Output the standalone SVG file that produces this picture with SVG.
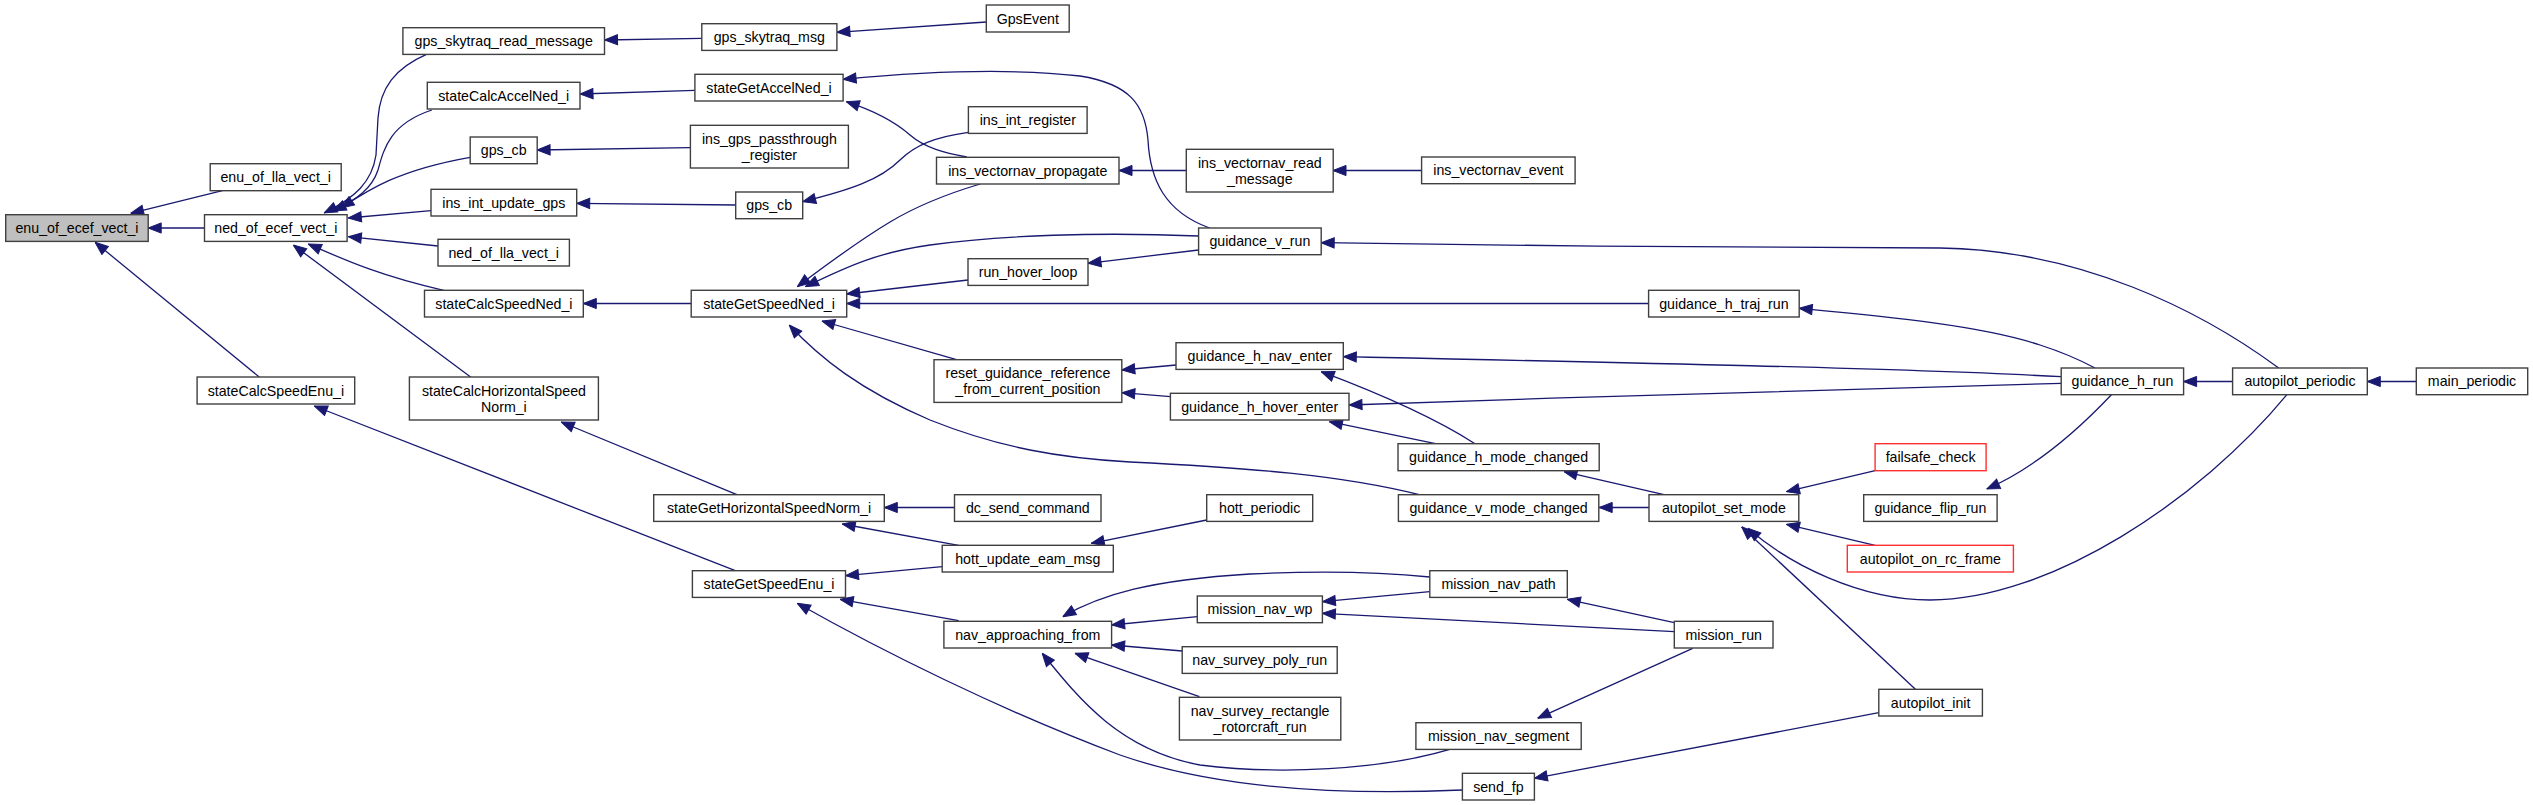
<svg xmlns="http://www.w3.org/2000/svg" width="2533" height="805" viewBox="0 0 2533 805">
<style>
.n rect{fill:#ffffff;stroke:#404040;stroke-width:1.4}
.n.root rect{fill:#bfbfbf}
.n.red rect{stroke:#ff3030}
.n text{font-family:"Liberation Sans",Arial,Helvetica,sans-serif;font-size:14.2px;fill:#000;text-anchor:middle}
.e path{fill:none;stroke:#191970;stroke-width:1.3;marker-start:url(#ah)}
</style>
<defs>
<marker id="ah" markerWidth="14" markerHeight="12" refX="0" refY="6" orient="auto" markerUnits="userSpaceOnUse" viewBox="0 0 14 12"><path d="M0,6 L13,0.9 L13,11.1 Z" fill="#191970" stroke="#191970" stroke-width="1"/></marker>
</defs>
<rect width="2533" height="805" fill="#ffffff"/>
<g id="connectors" class="e">
<path d="M130.6,213.3 L222.4,190.7"/>
<path d="M148.2,228 L204.5,228"/>
<path d="M95.1,242.3 L259.2,377"/>
<path d="M324,213 C355,198 372,182 376,155 L378,118 C380,88 395,68 426.5,54.3"/>
<path d="M333,211 C358,199 372,188 378,170 C384,148 390,124 431.8,110"/>
<path d="M341,208 C368,190 398,170 470.2,157.3"/>
<path d="M348.3,218 L431,210.7"/>
<path d="M348.3,236.7 L438,246"/>
<path d="M308.3,244 C345,260 380,276 443.7,290.3"/>
<path d="M293.3,245 L470.6,377"/>
<path d="M314.3,406 L735.3,570.7"/>
<path d="M561.2,422 L736.9,494.7"/>
<path d="M604.5,40 L701.8,38.3"/>
<path d="M580,94 L694.9,90.3"/>
<path d="M537.1,150 L690.4,147.7"/>
<path d="M576.7,203.3 L735.7,205"/>
<path d="M583.3,303.5 L691.2,303.5"/>
<path d="M836.9,32.3 L986.3,22"/>
<path d="M843.1,79.3 C920,72 1010,68 1080,76 C1130,84 1145,105 1148,140 C1150,180 1165,212 1209.6,228"/>
<path d="M846.3,101.7 C875,111 895,122 910,135 C925,148 945,153 966.7,157"/>
<path d="M802.7,201.7 C850,190 880,180 900,160 C915,145 935,137 968.4,132.3"/>
<path d="M797.3,286.7 C830,262 860,240 890,222 C920,204 950,193 980.2,184"/>
<path d="M805.5,286.7 C850,265 880,252 930,245 C1000,235 1100,232 1198.6,236"/>
<path d="M846.7,294 L968,280"/>
<path d="M846.7,303.5 L1648.6,303.5"/>
<path d="M821.8,321 L956.5,359.7"/>
<path d="M789.2,325 C820,358 860,390 930,420 C1000,448 1060,458 1130,462 C1250,468 1340,475 1419.2,494.7"/>
<path d="M1088,263.3 L1198.6,250"/>
<path d="M1119,170.5 L1186.3,170.5"/>
<path d="M1333,170.5 L1421.6,170.5"/>
<path d="M1321.2,242.7 C1500,246 1800,248 1940,248 C2080,250 2200,310 2278.7,368"/>
<path d="M1121.8,370 L1176,365"/>
<path d="M1121.8,392.7 L1170.4,396.7"/>
<path d="M1799.2,308.3 C1880,316 1980,325 2040,345 C2065,353 2080,360 2095,368"/>
<path d="M1343.3,356.7 C1600,362 1900,368 2061.2,376.7"/>
<path d="M1349,405 C1600,396 1900,388 2061.2,383.3"/>
<path d="M1321.2,371.7 C1370,390 1430,415 1475,443.7"/>
<path d="M1329.4,421.7 L1435.5,443.7"/>
<path d="M2183.6,381.5 L2232.6,381.5"/>
<path d="M2367.3,381.5 L2416.3,381.5"/>
<path d="M1986.7,489 C2035,468 2078,430 2111.4,394.7"/>
<path d="M1786.5,491.7 L1875.1,470.7"/>
<path d="M1786.5,524.3 L1875.1,545.3"/>
<path d="M1741.6,526.7 L1915.4,689.3"/>
<path d="M1747.8,528.3 C1790,565 1860,600 1930,600 C2050,600 2200,500 2286.9,394.7"/>
<path d="M1564,471.7 L1664,494.7"/>
<path d="M1599.2,507.5 L1649,507.5"/>
<path d="M884.3,507.5 L954.5,507.5"/>
<path d="M842.2,524 L958.6,545.3"/>
<path d="M845.5,575.7 L942.2,566.7"/>
<path d="M1091.2,543.3 L1206.7,520"/>
<path d="M840.2,599.3 L958.6,620.7"/>
<path d="M797.3,603.3 C880,650 1000,710 1120,755 C1220,790 1350,795 1462.4,790"/>
<path d="M1042.2,653.3 C1080,700 1120,750 1200,765 C1280,775 1380,770 1449.8,749.3"/>
<path d="M1111.6,625 L1197.3,616.7"/>
<path d="M1111.6,645 L1182.2,651"/>
<path d="M1074.9,653.3 L1199.4,696.7"/>
<path d="M1062.7,616.7 C1100,595 1150,580 1250,574 C1330,570 1390,573 1429.8,577"/>
<path d="M1322.4,601.7 L1429.8,591.7"/>
<path d="M1322.4,613.3 L1674.3,631.7"/>
<path d="M1567.3,599.3 L1674.3,622.7"/>
<path d="M1537.6,718.3 L1692.7,648.3"/>
<path d="M1534.3,778.3 L1878.8,712.7"/>
</g>
<g id="enu_of_ecef_vect_i" class="n root"><rect x="5.7" y="214.7" width="142.5" height="26.7"/><text x="77" y="233">enu_of_ecef_vect_i</text></g>
<g id="enu_of_lla_vect_i" class="n"><rect x="210.2" y="163.7" width="131" height="27"/><text x="275.7" y="182.2">enu_of_lla_vect_i</text></g>
<g id="ned_of_ecef_vect_i" class="n"><rect x="204.5" y="214.7" width="142.6" height="26.7"/><text x="275.8" y="233">ned_of_ecef_vect_i</text></g>
<g id="stateCalcSpeedEnu_i" class="n"><rect x="197.1" y="377" width="157.6" height="27"/><text x="275.9" y="395.5">stateCalcSpeedEnu_i</text></g>
<g id="gps_skytraq_read_message" class="n"><rect x="402.9" y="27.7" width="201.6" height="26.7"/><text x="503.7" y="46">gps_skytraq_read_message</text></g>
<g id="stateCalcAccelNed_i" class="n"><rect x="427.3" y="82.3" width="152.7" height="26.7"/><text x="503.7" y="100.6">stateCalcAccelNed_i</text></g>
<g id="gps_cb_1" class="n"><rect x="470.2" y="137" width="67" height="26.7"/><text x="503.7" y="155.3">gps_cb</text></g>
<g id="ins_int_update_gps" class="n"><rect x="431" y="189.3" width="145.7" height="26.7"/><text x="503.8" y="207.6">ins_int_update_gps</text></g>
<g id="ned_of_lla_vect_i" class="n"><rect x="438" y="239.3" width="131.4" height="26.7"/><text x="503.7" y="257.6">ned_of_lla_vect_i</text></g>
<g id="stateCalcSpeedNed_i" class="n"><rect x="424.5" y="290.3" width="158.8" height="26.7"/><text x="503.9" y="308.6">stateCalcSpeedNed_i</text></g>
<g id="stateCalcHorizontalSpeedNorm_i" class="n"><rect x="409.4" y="377" width="189" height="43"/><text x="503.9" y="395.5">stateCalcHorizontalSpeed</text><text x="503.9" y="411.5">Norm_i</text></g>
<g id="gps_skytraq_msg" class="n"><rect x="701.8" y="23.7" width="135.1" height="26.7"/><text x="769.3" y="42">gps_skytraq_msg</text></g>
<g id="stateGetAccelNed_i" class="n"><rect x="694.9" y="74.3" width="148.2" height="26.7"/><text x="769" y="92.6">stateGetAccelNed_i</text></g>
<g id="ins_gps_passthrough_register" class="n"><rect x="690.4" y="125.3" width="158" height="42.7"/><text x="769.4" y="143.6">ins_gps_passthrough</text><text x="769.4" y="159.6">_register</text></g>
<g id="gps_cb_2" class="n"><rect x="735.7" y="192" width="67" height="26.7"/><text x="769.2" y="210.3">gps_cb</text></g>
<g id="stateGetSpeedNed_i" class="n"><rect x="691.2" y="290.3" width="155.5" height="26.7"/><text x="769" y="308.6">stateGetSpeedNed_i</text></g>
<g id="stateGetHorizontalSpeedNorm_i" class="n"><rect x="653.7" y="494.7" width="230.6" height="26.7"/><text x="769" y="513">stateGetHorizontalSpeedNorm_i</text></g>
<g id="stateGetSpeedEnu_i" class="n"><rect x="692.4" y="570.7" width="153.1" height="26.7"/><text x="769" y="589">stateGetSpeedEnu_i</text></g>
<g id="GpsEvent" class="n"><rect x="986.3" y="5" width="82.9" height="27"/><text x="1027.8" y="23.5">GpsEvent</text></g>
<g id="ins_int_register" class="n"><rect x="968.4" y="106.7" width="118.7" height="26.7"/><text x="1027.8" y="125">ins_int_register</text></g>
<g id="ins_vectornav_propagate" class="n"><rect x="936.5" y="157.3" width="182.5" height="26.7"/><text x="1027.8" y="175.6">ins_vectornav_propagate</text></g>
<g id="run_hover_loop" class="n"><rect x="968" y="258.7" width="120" height="26.7"/><text x="1028" y="277">run_hover_loop</text></g>
<g id="reset_guidance_reference_from_current_position" class="n"><rect x="934" y="359.7" width="187.8" height="42.7"/><text x="1027.9" y="378">reset_guidance_reference</text><text x="1027.9" y="394">_from_current_position</text></g>
<g id="dc_send_command" class="n"><rect x="954.5" y="494.7" width="146.5" height="26.7"/><text x="1027.8" y="513">dc_send_command</text></g>
<g id="hott_update_eam_msg" class="n"><rect x="942.2" y="545.3" width="171.1" height="26.7"/><text x="1027.8" y="563.6">hott_update_eam_msg</text></g>
<g id="nav_approaching_from" class="n"><rect x="943.9" y="621.3" width="167.7" height="26.7"/><text x="1027.8" y="639.6">nav_approaching_from</text></g>
<g id="ins_vectornav_read_message" class="n"><rect x="1186.3" y="149.3" width="146.9" height="42.7"/><text x="1259.8" y="167.6">ins_vectornav_read</text><text x="1259.8" y="183.6">_message</text></g>
<g id="guidance_v_run" class="n"><rect x="1198.6" y="228" width="122.6" height="26.7"/><text x="1259.9" y="246.3">guidance_v_run</text></g>
<g id="guidance_h_nav_enter" class="n"><rect x="1176" y="342.7" width="167.3" height="26.7"/><text x="1259.7" y="361">guidance_h_nav_enter</text></g>
<g id="guidance_h_hover_enter" class="n"><rect x="1170.4" y="393.3" width="178.6" height="26.7"/><text x="1259.7" y="411.6">guidance_h_hover_enter</text></g>
<g id="hott_periodic" class="n"><rect x="1206.7" y="494.7" width="106" height="26.7"/><text x="1259.7" y="513">hott_periodic</text></g>
<g id="mission_nav_wp" class="n"><rect x="1197.3" y="596" width="125.1" height="26.7"/><text x="1259.9" y="614.3">mission_nav_wp</text></g>
<g id="nav_survey_poly_run" class="n"><rect x="1182.2" y="646.7" width="155" height="26.7"/><text x="1259.7" y="665">nav_survey_poly_run</text></g>
<g id="nav_survey_rectangle_rotorcraft_run" class="n"><rect x="1179.4" y="697.3" width="161.4" height="42.7"/><text x="1260.1" y="715.6">nav_survey_rectangle</text><text x="1260.1" y="731.6">_rotorcraft_run</text></g>
<g id="ins_vectornav_event" class="n"><rect x="1421.6" y="157" width="153.5" height="26.7"/><text x="1498.4" y="175.3">ins_vectornav_event</text></g>
<g id="guidance_h_mode_changed" class="n"><rect x="1398" y="443.7" width="201.2" height="27"/><text x="1498.6" y="462.2">guidance_h_mode_changed</text></g>
<g id="guidance_v_mode_changed" class="n"><rect x="1398.4" y="494.7" width="200.4" height="26.7"/><text x="1498.6" y="513">guidance_v_mode_changed</text></g>
<g id="mission_nav_path" class="n"><rect x="1429.8" y="570.7" width="137.5" height="26.7"/><text x="1498.6" y="589">mission_nav_path</text></g>
<g id="mission_nav_segment" class="n"><rect x="1415.9" y="722.7" width="165.3" height="26.7"/><text x="1498.6" y="741">mission_nav_segment</text></g>
<g id="send_fp" class="n"><rect x="1462.4" y="773.3" width="72" height="26.7"/><text x="1498.4" y="791.6">send_fp</text></g>
<g id="guidance_h_traj_run" class="n"><rect x="1648.6" y="290.3" width="150.6" height="26.7"/><text x="1723.9" y="308.6">guidance_h_traj_run</text></g>
<g id="autopilot_set_mode" class="n"><rect x="1649" y="494.7" width="149.8" height="26.7"/><text x="1723.9" y="513">autopilot_set_mode</text></g>
<g id="mission_run" class="n"><rect x="1674.3" y="621.3" width="98.7" height="26.7"/><text x="1723.7" y="639.6">mission_run</text></g>
<g id="failsafe_check" class="n red"><rect x="1875.1" y="443.7" width="111" height="27"/><text x="1930.6" y="462.2">failsafe_check</text></g>
<g id="guidance_flip_run" class="n"><rect x="1863.7" y="494.7" width="133.4" height="26.7"/><text x="1930.4" y="513">guidance_flip_run</text></g>
<g id="autopilot_on_rc_frame" class="n red"><rect x="1847.3" y="545.3" width="166.1" height="26.7"/><text x="1930.4" y="563.6">autopilot_on_rc_frame</text></g>
<g id="autopilot_init" class="n"><rect x="1878.8" y="689.3" width="103.6" height="26.7"/><text x="1930.6" y="707.6">autopilot_init</text></g>
<g id="guidance_h_run" class="n"><rect x="2061.2" y="368" width="122.4" height="26.7"/><text x="2122.4" y="386.3">guidance_h_run</text></g>
<g id="autopilot_periodic" class="n"><rect x="2232.6" y="368" width="134.7" height="26.7"/><text x="2300" y="386.3">autopilot_periodic</text></g>
<g id="main_periodic" class="n"><rect x="2416.3" y="368" width="111.4" height="26.7"/><text x="2472" y="386.3">main_periodic</text></g>
</svg>
